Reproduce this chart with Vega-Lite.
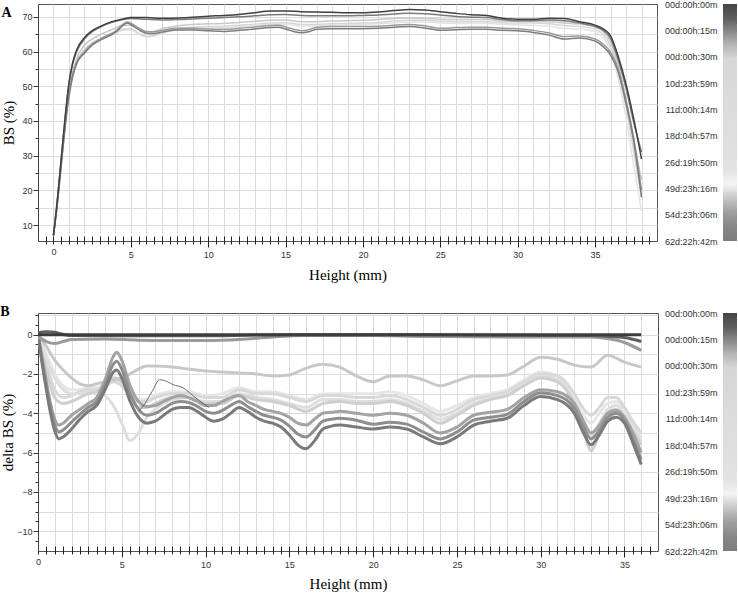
{
"$schema": "https://vega.github.io/schema/vega-lite/v6.json",
"padding": {"top": 0, "left": 0, "right": 0, "bottom": 0},
"config": {
  "view": {"stroke": "#555", "strokeWidth": 1},
  "axis": {"labelFont": "Liberation Sans", "labelFontSize": 9, "labelColor": "#333", "titleFont": "Liberation Serif", "titleFontSize": 15, "titleFontWeight": "normal", "titleColor": "#000", "gridColor": "#dcdcdc", "tickColor": "#333", "domainColor": "#444"}
},
"resolve": {"scale": {"color": "independent"}},
"datasets": {
"A": [
{"s":"a_l2","x":0,"y":7},{"s":"a_l2","x":0.5,"y":28},{"s":"a_l2","x":1,"y":48},{"s":"a_l2","x":1.5,"y":56.5},{"s":"a_l2","x":2,"y":60},{"s":"a_l2","x":2.5,"y":62},{"s":"a_l2","x":3,"y":63.2},{"s":"a_l2","x":3.5,"y":64.2},{"s":"a_l2","x":4,"y":65.2},{"s":"a_l2","x":4.5,"y":66.1},{"s":"a_l2","x":5,"y":66.2},{"s":"a_l2","x":5.5,"y":65},{"s":"a_l2","x":6,"y":64.2},{"s":"a_l2","x":6.5,"y":64.4},{"s":"a_l2","x":7,"y":65.2},{"s":"a_l2","x":8,"y":66.2},{"s":"a_l2","x":9,"y":66.6},{"s":"a_l2","x":10,"y":66.8},{"s":"a_l2","x":11,"y":66.9},{"s":"a_l2","x":12,"y":67.2},{"s":"a_l2","x":13,"y":67.5},{"s":"a_l2","x":14,"y":67.8},{"s":"a_l2","x":15,"y":67.9},{"s":"a_l2","x":16,"y":67.3},{"s":"a_l2","x":17,"y":67.4},{"s":"a_l2","x":18,"y":67.6},{"s":"a_l2","x":19,"y":67.7},{"s":"a_l2","x":20,"y":67.8},{"s":"a_l2","x":21,"y":68},{"s":"a_l2","x":22,"y":68.3},{"s":"a_l2","x":23,"y":68.5},{"s":"a_l2","x":24,"y":68.5},{"s":"a_l2","x":25,"y":68.2},{"s":"a_l2","x":26,"y":68.1},{"s":"a_l2","x":27,"y":68.1},{"s":"a_l2","x":28,"y":68.1},{"s":"a_l2","x":29,"y":67.8},{"s":"a_l2","x":30,"y":67.7},{"s":"a_l2","x":31,"y":67.6},{"s":"a_l2","x":32,"y":67.3},{"s":"a_l2","x":33,"y":66.7},{"s":"a_l2","x":34,"y":66.5},{"s":"a_l2","x":35,"y":65.7},{"s":"a_l2","x":35.5,"y":64},{"s":"a_l2","x":36,"y":60.5},{"s":"a_l2","x":36.5,"y":52},{"s":"a_l2","x":37,"y":41},{"s":"a_l2","x":37.5,"y":27},{"s":"a_l2","x":38,"y":14},
{"s":"a_l1","x":0,"y":7},{"s":"a_l1","x":0.5,"y":28.5},{"s":"a_l1","x":1,"y":48.5},{"s":"a_l1","x":1.5,"y":57},{"s":"a_l1","x":2,"y":60.5},{"s":"a_l1","x":2.5,"y":62.5},{"s":"a_l1","x":3,"y":63.6},{"s":"a_l1","x":3.5,"y":64.6},{"s":"a_l1","x":4,"y":65.6},{"s":"a_l1","x":4.5,"y":66.5},{"s":"a_l1","x":5,"y":66.6},{"s":"a_l1","x":5.5,"y":65.3},{"s":"a_l1","x":6,"y":64.4},{"s":"a_l1","x":6.5,"y":64.6},{"s":"a_l1","x":7,"y":65.5},{"s":"a_l1","x":8,"y":66.6},{"s":"a_l1","x":9,"y":67},{"s":"a_l1","x":10,"y":67.2},{"s":"a_l1","x":11,"y":67.3},{"s":"a_l1","x":12,"y":67.6},{"s":"a_l1","x":13,"y":67.9},{"s":"a_l1","x":14,"y":68.2},{"s":"a_l1","x":15,"y":68.3},{"s":"a_l1","x":16,"y":67.8},{"s":"a_l1","x":17,"y":67.8},{"s":"a_l1","x":18,"y":68},{"s":"a_l1","x":19,"y":68.1},{"s":"a_l1","x":20,"y":68.2},{"s":"a_l1","x":21,"y":68.4},{"s":"a_l1","x":22,"y":68.8},{"s":"a_l1","x":23,"y":69},{"s":"a_l1","x":24,"y":69},{"s":"a_l1","x":25,"y":68.7},{"s":"a_l1","x":26,"y":68.6},{"s":"a_l1","x":27,"y":68.6},{"s":"a_l1","x":28,"y":68.6},{"s":"a_l1","x":29,"y":68.3},{"s":"a_l1","x":30,"y":68.2},{"s":"a_l1","x":31,"y":68.2},{"s":"a_l1","x":32,"y":68},{"s":"a_l1","x":33,"y":67.5},{"s":"a_l1","x":34,"y":67.2},{"s":"a_l1","x":35,"y":66.4},{"s":"a_l1","x":35.5,"y":65},{"s":"a_l1","x":36,"y":61.5},{"s":"a_l1","x":36.5,"y":54},{"s":"a_l1","x":37,"y":44},{"s":"a_l1","x":37.5,"y":31},{"s":"a_l1","x":38,"y":18},
{"s":"a_l3","x":0,"y":7},{"s":"a_l3","x":0.5,"y":28},{"s":"a_l3","x":1,"y":49},{"s":"a_l3","x":1.5,"y":58},{"s":"a_l3","x":2,"y":61.8},{"s":"a_l3","x":2.5,"y":63.6},{"s":"a_l3","x":3,"y":64.8},{"s":"a_l3","x":3.5,"y":65.8},{"s":"a_l3","x":4,"y":66.8},{"s":"a_l3","x":4.5,"y":67.6},{"s":"a_l3","x":5,"y":67.5},{"s":"a_l3","x":5.5,"y":66.5},{"s":"a_l3","x":6,"y":65.6},{"s":"a_l3","x":6.5,"y":65.8},{"s":"a_l3","x":7,"y":66.6},{"s":"a_l3","x":8,"y":67.4},{"s":"a_l3","x":9,"y":67.8},{"s":"a_l3","x":10,"y":68},{"s":"a_l3","x":11,"y":68.1},{"s":"a_l3","x":12,"y":68.4},{"s":"a_l3","x":13,"y":68.7},{"s":"a_l3","x":14,"y":69},{"s":"a_l3","x":15,"y":69.1},{"s":"a_l3","x":16,"y":68.6},{"s":"a_l3","x":17,"y":68.6},{"s":"a_l3","x":18,"y":68.8},{"s":"a_l3","x":19,"y":68.9},{"s":"a_l3","x":20,"y":69},{"s":"a_l3","x":21,"y":69.2},{"s":"a_l3","x":22,"y":69.5},{"s":"a_l3","x":23,"y":69.7},{"s":"a_l3","x":24,"y":69.6},{"s":"a_l3","x":25,"y":69.3},{"s":"a_l3","x":26,"y":69.2},{"s":"a_l3","x":27,"y":69.2},{"s":"a_l3","x":28,"y":69.2},{"s":"a_l3","x":29,"y":68.8},{"s":"a_l3","x":30,"y":68.7},{"s":"a_l3","x":31,"y":68.7},{"s":"a_l3","x":32,"y":68.6},{"s":"a_l3","x":33,"y":68.2},{"s":"a_l3","x":34,"y":67.9},{"s":"a_l3","x":35,"y":67.1},{"s":"a_l3","x":35.5,"y":65.8},{"s":"a_l3","x":36,"y":62.8},{"s":"a_l3","x":36.5,"y":56},{"s":"a_l3","x":37,"y":46},{"s":"a_l3","x":37.5,"y":34},{"s":"a_l3","x":38,"y":23},
{"s":"a_d2","x":0,"y":7},{"s":"a_d2","x":0.25,"y":16.5},{"s":"a_d2","x":0.5,"y":28},{"s":"a_d2","x":0.75,"y":39},{"s":"a_d2","x":1,"y":47.5},{"s":"a_d2","x":1.25,"y":53.5},{"s":"a_d2","x":1.5,"y":57},{"s":"a_d2","x":2,"y":60},{"s":"a_d2","x":2.5,"y":62.2},{"s":"a_d2","x":3,"y":63.6},{"s":"a_d2","x":3.5,"y":64.7},{"s":"a_d2","x":4,"y":65.9},{"s":"a_d2","x":4.5,"y":67.9},{"s":"a_d2","x":4.75,"y":68.5},{"s":"a_d2","x":5,"y":68.2},{"s":"a_d2","x":5.5,"y":66.8},{"s":"a_d2","x":6,"y":65.8},{"s":"a_d2","x":6.5,"y":65.7},{"s":"a_d2","x":7,"y":66.1},{"s":"a_d2","x":8,"y":66.7},{"s":"a_d2","x":9,"y":66.7},{"s":"a_d2","x":10,"y":66.5},{"s":"a_d2","x":11,"y":66.4},{"s":"a_d2","x":12,"y":66.7},{"s":"a_d2","x":13,"y":67.1},{"s":"a_d2","x":14,"y":67.5},{"s":"a_d2","x":14.5,"y":67.6},{"s":"a_d2","x":15,"y":67.1},{"s":"a_d2","x":15.5,"y":66.4},{"s":"a_d2","x":16,"y":66},{"s":"a_d2","x":16.5,"y":66.3},{"s":"a_d2","x":17,"y":67},{"s":"a_d2","x":18,"y":67.2},{"s":"a_d2","x":19,"y":67.2},{"s":"a_d2","x":20,"y":67.2},{"s":"a_d2","x":21,"y":67.3},{"s":"a_d2","x":22,"y":67.6},{"s":"a_d2","x":23,"y":67.8},{"s":"a_d2","x":24,"y":67.4},{"s":"a_d2","x":25,"y":66.7},{"s":"a_d2","x":26,"y":66.9},{"s":"a_d2","x":27,"y":67},{"s":"a_d2","x":28,"y":67},{"s":"a_d2","x":29,"y":66.7},{"s":"a_d2","x":30,"y":66.6},{"s":"a_d2","x":31,"y":66.1},{"s":"a_d2","x":32,"y":65.4},{"s":"a_d2","x":33,"y":64.3},{"s":"a_d2","x":34,"y":64.5},{"s":"a_d2","x":35,"y":63.6},{"s":"a_d2","x":35.5,"y":62.2},{"s":"a_d2","x":36,"y":59.8},{"s":"a_d2","x":36.5,"y":55},{"s":"a_d2","x":37,"y":46},{"s":"a_d2","x":37.5,"y":35},{"s":"a_d2","x":38,"y":20},
{"s":"a_d1","x":0,"y":7},{"s":"a_d1","x":0.25,"y":16},{"s":"a_d1","x":0.5,"y":27},{"s":"a_d1","x":0.75,"y":38},{"s":"a_d1","x":1,"y":47},{"s":"a_d1","x":1.25,"y":53},{"s":"a_d1","x":1.5,"y":56.5},{"s":"a_d1","x":2,"y":59.5},{"s":"a_d1","x":2.5,"y":61.8},{"s":"a_d1","x":3,"y":63.2},{"s":"a_d1","x":3.5,"y":64.3},{"s":"a_d1","x":4,"y":65.5},{"s":"a_d1","x":4.5,"y":67.5},{"s":"a_d1","x":4.75,"y":68.2},{"s":"a_d1","x":5,"y":67.8},{"s":"a_d1","x":5.5,"y":66.3},{"s":"a_d1","x":6,"y":65.3},{"s":"a_d1","x":6.5,"y":65.2},{"s":"a_d1","x":7,"y":65.6},{"s":"a_d1","x":8,"y":66.2},{"s":"a_d1","x":9,"y":66.2},{"s":"a_d1","x":10,"y":66},{"s":"a_d1","x":11,"y":65.8},{"s":"a_d1","x":12,"y":66.1},{"s":"a_d1","x":13,"y":66.5},{"s":"a_d1","x":14,"y":66.9},{"s":"a_d1","x":14.5,"y":67},{"s":"a_d1","x":15,"y":66.5},{"s":"a_d1","x":15.5,"y":65.8},{"s":"a_d1","x":16,"y":65.4},{"s":"a_d1","x":16.5,"y":65.7},{"s":"a_d1","x":17,"y":66.4},{"s":"a_d1","x":18,"y":66.6},{"s":"a_d1","x":19,"y":66.6},{"s":"a_d1","x":20,"y":66.6},{"s":"a_d1","x":21,"y":66.7},{"s":"a_d1","x":22,"y":67},{"s":"a_d1","x":23,"y":67.2},{"s":"a_d1","x":24,"y":66.8},{"s":"a_d1","x":25,"y":66.1},{"s":"a_d1","x":26,"y":66.3},{"s":"a_d1","x":27,"y":66.4},{"s":"a_d1","x":28,"y":66.4},{"s":"a_d1","x":29,"y":66.1},{"s":"a_d1","x":30,"y":66},{"s":"a_d1","x":31,"y":65.5},{"s":"a_d1","x":32,"y":64.8},{"s":"a_d1","x":33,"y":63.6},{"s":"a_d1","x":34,"y":63.9},{"s":"a_d1","x":35,"y":63},{"s":"a_d1","x":35.5,"y":61.5},{"s":"a_d1","x":36,"y":59},{"s":"a_d1","x":36.5,"y":54},{"s":"a_d1","x":37,"y":45},{"s":"a_d1","x":37.5,"y":34},{"s":"a_d1","x":38,"y":18},
{"s":"a_t1","x":0,"y":7},{"s":"a_t1","x":0.25,"y":17},{"s":"a_t1","x":0.5,"y":29},{"s":"a_t1","x":0.75,"y":40.5},{"s":"a_t1","x":1,"y":50.5},{"s":"a_t1","x":1.25,"y":56.5},{"s":"a_t1","x":1.5,"y":60},{"s":"a_t1","x":2,"y":63.6},{"s":"a_t1","x":2.5,"y":65.7},{"s":"a_t1","x":3,"y":67},{"s":"a_t1","x":3.5,"y":68},{"s":"a_t1","x":4,"y":68.7},{"s":"a_t1","x":4.5,"y":69.2},{"s":"a_t1","x":5,"y":69.5},{"s":"a_t1","x":6,"y":69.3},{"s":"a_t1","x":7,"y":69.1},{"s":"a_t1","x":8,"y":69.2},{"s":"a_t1","x":9,"y":69.4},{"s":"a_t1","x":10,"y":69.6},{"s":"a_t1","x":11,"y":69.8},{"s":"a_t1","x":12,"y":70},{"s":"a_t1","x":13,"y":70.3},{"s":"a_t1","x":14,"y":70.6},{"s":"a_t1","x":15,"y":70.7},{"s":"a_t1","x":16,"y":70.4},{"s":"a_t1","x":17,"y":70.3},{"s":"a_t1","x":18,"y":70.3},{"s":"a_t1","x":19,"y":70.3},{"s":"a_t1","x":20,"y":70.4},{"s":"a_t1","x":21,"y":70.5},{"s":"a_t1","x":22,"y":70.8},{"s":"a_t1","x":23,"y":71},{"s":"a_t1","x":24,"y":70.9},{"s":"a_t1","x":25,"y":70.5},{"s":"a_t1","x":26,"y":70.1},{"s":"a_t1","x":27,"y":69.9},{"s":"a_t1","x":28,"y":69.8},{"s":"a_t1","x":29,"y":69.2},{"s":"a_t1","x":30,"y":68.9},{"s":"a_t1","x":31,"y":68.9},{"s":"a_t1","x":32,"y":69.1},{"s":"a_t1","x":33,"y":68.9},{"s":"a_t1","x":34,"y":68.2},{"s":"a_t1","x":35,"y":67.2},{"s":"a_t1","x":35.5,"y":66.2},{"s":"a_t1","x":36,"y":63.8},{"s":"a_t1","x":36.5,"y":57.5},{"s":"a_t1","x":37,"y":49.5},{"s":"a_t1","x":37.5,"y":39.5},{"s":"a_t1","x":38,"y":31},
{"s":"a_top","x":0,"y":7},{"s":"a_top","x":0.25,"y":17},{"s":"a_top","x":0.5,"y":29},{"s":"a_top","x":0.75,"y":41},{"s":"a_top","x":1,"y":51},{"s":"a_top","x":1.25,"y":57},{"s":"a_top","x":1.5,"y":60.5},{"s":"a_top","x":2,"y":64},{"s":"a_top","x":2.5,"y":66},{"s":"a_top","x":3,"y":67.2},{"s":"a_top","x":3.5,"y":68.2},{"s":"a_top","x":4,"y":68.9},{"s":"a_top","x":4.5,"y":69.4},{"s":"a_top","x":5,"y":69.8},{"s":"a_top","x":6,"y":69.8},{"s":"a_top","x":7,"y":69.6},{"s":"a_top","x":8,"y":69.7},{"s":"a_top","x":9,"y":69.9},{"s":"a_top","x":10,"y":70.2},{"s":"a_top","x":11,"y":70.4},{"s":"a_top","x":12,"y":70.7},{"s":"a_top","x":13,"y":71.2},{"s":"a_top","x":14,"y":71.7},{"s":"a_top","x":15,"y":71.7},{"s":"a_top","x":16,"y":71.5},{"s":"a_top","x":17,"y":71.4},{"s":"a_top","x":18,"y":71.3},{"s":"a_top","x":19,"y":71.2},{"s":"a_top","x":20,"y":71.2},{"s":"a_top","x":21,"y":71.4},{"s":"a_top","x":22,"y":71.8},{"s":"a_top","x":23,"y":72.1},{"s":"a_top","x":24,"y":72},{"s":"a_top","x":25,"y":71.5},{"s":"a_top","x":26,"y":71},{"s":"a_top","x":27,"y":70.6},{"s":"a_top","x":28,"y":70.4},{"s":"a_top","x":29,"y":69.6},{"s":"a_top","x":30,"y":69.3},{"s":"a_top","x":31,"y":69.3},{"s":"a_top","x":32,"y":69.6},{"s":"a_top","x":33,"y":69.5},{"s":"a_top","x":34,"y":68.6},{"s":"a_top","x":35,"y":67.6},{"s":"a_top","x":35.5,"y":66.6},{"s":"a_top","x":36,"y":64.5},{"s":"a_top","x":36.5,"y":58.5},{"s":"a_top","x":37,"y":50.5},{"s":"a_top","x":37.5,"y":40.5},{"s":"a_top","x":38,"y":29}
],
"B": [
{"s":"b_l7","x":0,"y":0},{"s":"b_l7","x":0.5,"y":-1},{"s":"b_l7","x":1,"y":-2},{"s":"b_l7","x":1.5,"y":-2.6},{"s":"b_l7","x":2,"y":-2.8},{"s":"b_l7","x":2.5,"y":-2.8},{"s":"b_l7","x":3,"y":-2.7},{"s":"b_l7","x":3.5,"y":-2.7},{"s":"b_l7","x":4,"y":-2.5},{"s":"b_l7","x":4.5,"y":-2.2},{"s":"b_l7","x":5,"y":-2.4},{"s":"b_l7","x":5.5,"y":-3},{"s":"b_l7","x":6,"y":-3.3},{"s":"b_l7","x":6.5,"y":-3.3},{"s":"b_l7","x":7,"y":-3.1},{"s":"b_l7","x":8,"y":-2.9},{"s":"b_l7","x":9,"y":-2.9},{"s":"b_l7","x":10,"y":-3.1},{"s":"b_l7","x":11,"y":-3},{"s":"b_l7","x":12,"y":-2.7},{"s":"b_l7","x":13,"y":-2.9},{"s":"b_l7","x":14,"y":-2.9},{"s":"b_l7","x":15,"y":-3.1},{"s":"b_l7","x":16,"y":-3.3},{"s":"b_l7","x":17,"y":-3},{"s":"b_l7","x":18,"y":-3},{"s":"b_l7","x":19,"y":-3},{"s":"b_l7","x":20,"y":-3},{"s":"b_l7","x":21,"y":-2.9},{"s":"b_l7","x":22,"y":-3.1},{"s":"b_l7","x":23,"y":-3.5},{"s":"b_l7","x":24,"y":-3.9},{"s":"b_l7","x":25,"y":-3.6},{"s":"b_l7","x":26,"y":-3.2},{"s":"b_l7","x":27,"y":-3},{"s":"b_l7","x":28,"y":-2.8},{"s":"b_l7","x":29,"y":-2.3},{"s":"b_l7","x":30,"y":-1.9},{"s":"b_l7","x":31,"y":-2.1},{"s":"b_l7","x":32,"y":-3.3},{"s":"b_l7","x":32.5,"y":-4},{"s":"b_l7","x":33,"y":-4.5},{"s":"b_l7","x":33.5,"y":-4},{"s":"b_l7","x":34,"y":-3.5},{"s":"b_l7","x":34.5,"y":-3.4},{"s":"b_l7","x":35,"y":-3.9},{"s":"b_l7","x":35.5,"y":-4.5},{"s":"b_l7","x":36,"y":-5.2},
{"s":"b_l6","x":0,"y":0},{"s":"b_l6","x":0.5,"y":-1.5},{"s":"b_l6","x":1,"y":-2.8},{"s":"b_l6","x":1.5,"y":-3.2},{"s":"b_l6","x":2,"y":-3.1},{"s":"b_l6","x":2.5,"y":-2.9},{"s":"b_l6","x":3,"y":-2.8},{"s":"b_l6","x":3.5,"y":-2.8},{"s":"b_l6","x":4,"y":-2.6},{"s":"b_l6","x":4.5,"y":-2.4},{"s":"b_l6","x":5,"y":-2.6},{"s":"b_l6","x":5.5,"y":-3.1},{"s":"b_l6","x":6,"y":-3.4},{"s":"b_l6","x":6.5,"y":-3.4},{"s":"b_l6","x":7,"y":-3.2},{"s":"b_l6","x":8,"y":-3},{"s":"b_l6","x":9,"y":-3},{"s":"b_l6","x":10,"y":-3.2},{"s":"b_l6","x":11,"y":-3.2},{"s":"b_l6","x":12,"y":-2.8},{"s":"b_l6","x":13,"y":-3},{"s":"b_l6","x":14,"y":-3},{"s":"b_l6","x":15,"y":-3.2},{"s":"b_l6","x":16,"y":-3.4},{"s":"b_l6","x":17,"y":-3.1},{"s":"b_l6","x":18,"y":-3.1},{"s":"b_l6","x":19,"y":-3.2},{"s":"b_l6","x":20,"y":-3.2},{"s":"b_l6","x":21,"y":-3.1},{"s":"b_l6","x":22,"y":-3.3},{"s":"b_l6","x":23,"y":-3.7},{"s":"b_l6","x":24,"y":-4.1},{"s":"b_l6","x":25,"y":-3.8},{"s":"b_l6","x":26,"y":-3.3},{"s":"b_l6","x":27,"y":-3.1},{"s":"b_l6","x":28,"y":-2.9},{"s":"b_l6","x":29,"y":-2.4},{"s":"b_l6","x":30,"y":-2},{"s":"b_l6","x":31,"y":-2.1},{"s":"b_l6","x":32,"y":-3},{"s":"b_l6","x":32.5,"y":-3.7},{"s":"b_l6","x":33,"y":-4.1},{"s":"b_l6","x":33.5,"y":-3.7},{"s":"b_l6","x":34,"y":-3.2},{"s":"b_l6","x":34.5,"y":-3.2},{"s":"b_l6","x":35,"y":-3.7},{"s":"b_l6","x":35.5,"y":-4.4},{"s":"b_l6","x":36,"y":-5},
{"s":"b_l5","x":0,"y":0},{"s":"b_l5","x":0.5,"y":-1.2},{"s":"b_l5","x":1,"y":-2.2},{"s":"b_l5","x":1.5,"y":-2.8},{"s":"b_l5","x":2,"y":-3},{"s":"b_l5","x":2.5,"y":-3},{"s":"b_l5","x":3,"y":-2.9},{"s":"b_l5","x":3.5,"y":-2.9},{"s":"b_l5","x":4,"y":-3.1},{"s":"b_l5","x":4.5,"y":-3.6},{"s":"b_l5","x":5,"y":-4.5},{"s":"b_l5","x":5.5,"y":-5.4},{"s":"b_l5","x":6,"y":-5},{"s":"b_l5","x":6.5,"y":-4.2},{"s":"b_l5","x":7,"y":-3.8},{"s":"b_l5","x":7.5,"y":-3.5},{"s":"b_l5","x":8,"y":-3.3},{"s":"b_l5","x":9,"y":-3.2},{"s":"b_l5","x":10,"y":-3.4},{"s":"b_l5","x":11,"y":-3.4},{"s":"b_l5","x":12,"y":-3},{"s":"b_l5","x":13,"y":-3.2},{"s":"b_l5","x":14,"y":-3.3},{"s":"b_l5","x":15,"y":-3.5},{"s":"b_l5","x":16,"y":-3.7},{"s":"b_l5","x":17,"y":-3.3},{"s":"b_l5","x":18,"y":-3.3},{"s":"b_l5","x":19,"y":-3.4},{"s":"b_l5","x":20,"y":-3.4},{"s":"b_l5","x":21,"y":-3.3},{"s":"b_l5","x":22,"y":-3.5},{"s":"b_l5","x":23,"y":-3.9},{"s":"b_l5","x":24,"y":-4.3},{"s":"b_l5","x":25,"y":-4},{"s":"b_l5","x":26,"y":-3.5},{"s":"b_l5","x":27,"y":-3.2},{"s":"b_l5","x":28,"y":-3},{"s":"b_l5","x":29,"y":-2.5},{"s":"b_l5","x":30,"y":-2.1},{"s":"b_l5","x":31,"y":-2.3},{"s":"b_l5","x":32,"y":-3.4},{"s":"b_l5","x":32.5,"y":-4.3},{"s":"b_l5","x":33,"y":-5.2},{"s":"b_l5","x":33.5,"y":-4.5},{"s":"b_l5","x":34,"y":-3.8},{"s":"b_l5","x":34.5,"y":-3.6},{"s":"b_l5","x":35,"y":-4.1},{"s":"b_l5","x":35.5,"y":-4.7},{"s":"b_l5","x":36,"y":-5.4},
{"s":"b_l8","x":0,"y":0},{"s":"b_l8","x":0.5,"y":-1.8},{"s":"b_l8","x":1,"y":-3.2},{"s":"b_l8","x":1.5,"y":-3.5},{"s":"b_l8","x":2,"y":-3.4},{"s":"b_l8","x":2.5,"y":-3.2},{"s":"b_l8","x":3,"y":-3},{"s":"b_l8","x":3.5,"y":-2.9},{"s":"b_l8","x":4,"y":-2.6},{"s":"b_l8","x":4.5,"y":-2.2},{"s":"b_l8","x":5,"y":-2.4},{"s":"b_l8","x":5.5,"y":-3.2},{"s":"b_l8","x":6,"y":-3.7},{"s":"b_l8","x":6.5,"y":-3.7},{"s":"b_l8","x":7,"y":-3.5},{"s":"b_l8","x":8,"y":-3.2},{"s":"b_l8","x":9,"y":-3.2},{"s":"b_l8","x":10,"y":-3.5},{"s":"b_l8","x":11,"y":-3.5},{"s":"b_l8","x":12,"y":-3.1},{"s":"b_l8","x":13,"y":-3.3},{"s":"b_l8","x":14,"y":-3.4},{"s":"b_l8","x":15,"y":-3.6},{"s":"b_l8","x":16,"y":-3.9},{"s":"b_l8","x":17,"y":-3.5},{"s":"b_l8","x":18,"y":-3.4},{"s":"b_l8","x":19,"y":-3.5},{"s":"b_l8","x":20,"y":-3.5},{"s":"b_l8","x":21,"y":-3.4},{"s":"b_l8","x":22,"y":-3.6},{"s":"b_l8","x":23,"y":-4},{"s":"b_l8","x":24,"y":-4.5},{"s":"b_l8","x":25,"y":-4.1},{"s":"b_l8","x":26,"y":-3.6},{"s":"b_l8","x":27,"y":-3.3},{"s":"b_l8","x":28,"y":-3.1},{"s":"b_l8","x":29,"y":-2.6},{"s":"b_l8","x":30,"y":-2.2},{"s":"b_l8","x":31,"y":-2.4},{"s":"b_l8","x":32,"y":-3.5},{"s":"b_l8","x":32.5,"y":-4.6},{"s":"b_l8","x":33,"y":-5.9},{"s":"b_l8","x":33.5,"y":-5},{"s":"b_l8","x":34,"y":-4},{"s":"b_l8","x":34.5,"y":-3.8},{"s":"b_l8","x":35,"y":-4.3},{"s":"b_l8","x":35.5,"y":-4.9},{"s":"b_l8","x":36,"y":-5.6},
{"s":"b_l3","x":0,"y":0},{"s":"b_l3","x":0.5,"y":-0.6},{"s":"b_l3","x":1,"y":-1.3},{"s":"b_l3","x":1.5,"y":-1.8},{"s":"b_l3","x":2,"y":-2.2},{"s":"b_l3","x":2.5,"y":-2.5},{"s":"b_l3","x":3,"y":-2.6},{"s":"b_l3","x":3.5,"y":-2.5},{"s":"b_l3","x":4,"y":-2.4},{"s":"b_l3","x":4.5,"y":-2.3},{"s":"b_l3","x":5,"y":-2.2},{"s":"b_l3","x":5.5,"y":-2},{"s":"b_l3","x":6,"y":-1.75},{"s":"b_l3","x":6.5,"y":-1.6},{"s":"b_l3","x":7,"y":-1.6},{"s":"b_l3","x":8,"y":-1.65},{"s":"b_l3","x":9,"y":-1.75},{"s":"b_l3","x":10,"y":-1.85},{"s":"b_l3","x":11,"y":-1.9},{"s":"b_l3","x":12,"y":-1.95},{"s":"b_l3","x":13,"y":-2},{"s":"b_l3","x":14,"y":-2.1},{"s":"b_l3","x":15,"y":-2.05},{"s":"b_l3","x":16,"y":-1.7},{"s":"b_l3","x":17,"y":-1.5},{"s":"b_l3","x":18,"y":-1.65},{"s":"b_l3","x":19,"y":-2.1},{"s":"b_l3","x":20,"y":-2.4},{"s":"b_l3","x":21,"y":-2.1},{"s":"b_l3","x":22,"y":-2.1},{"s":"b_l3","x":23,"y":-2.3},{"s":"b_l3","x":24,"y":-2.6},{"s":"b_l3","x":25,"y":-2.35},{"s":"b_l3","x":26,"y":-2.1},{"s":"b_l3","x":27,"y":-2.1},{"s":"b_l3","x":28,"y":-2.05},{"s":"b_l3","x":29,"y":-1.6},{"s":"b_l3","x":30,"y":-1.15},{"s":"b_l3","x":31,"y":-1.25},{"s":"b_l3","x":32,"y":-1.55},{"s":"b_l3","x":33,"y":-1.65},{"s":"b_l3","x":34,"y":-1.05},{"s":"b_l3","x":35,"y":-1.4},{"s":"b_l3","x":36,"y":-1.65},
{"s":"b_m9","x":0,"y":0},{"s":"b_m9","x":0.25,"y":-1.2},{"s":"b_m9","x":0.5,"y":-2.4},{"s":"b_m9","x":0.75,"y":-3.5},{"s":"b_m9","x":1,"y":-4.3},{"s":"b_m9","x":1.25,"y":-4.6},{"s":"b_m9","x":1.5,"y":-4.5},{"s":"b_m9","x":2,"y":-4.1},{"s":"b_m9","x":2.5,"y":-3.8},{"s":"b_m9","x":3,"y":-3.5},{"s":"b_m9","x":3.5,"y":-3.2},{"s":"b_m9","x":4,"y":-2.3},{"s":"b_m9","x":4.5,"y":-1.1},{"s":"b_m9","x":4.7,"y":-0.9},{"s":"b_m9","x":5,"y":-1.3},{"s":"b_m9","x":5.5,"y":-2.6},{"s":"b_m9","x":6,"y":-3.4},{"s":"b_m9","x":6.5,"y":-3.65},{"s":"b_m9","x":7,"y":-3.6},{"s":"b_m9","x":7.5,"y":-3.4},{"s":"b_m9","x":8,"y":-3.2},{"s":"b_m9","x":8.5,"y":-3.1},{"s":"b_m9","x":9,"y":-3.2},{"s":"b_m9","x":9.5,"y":-3.4},{"s":"b_m9","x":10,"y":-3.6},{"s":"b_m9","x":10.5,"y":-3.6},{"s":"b_m9","x":11,"y":-3.4},{"s":"b_m9","x":11.5,"y":-3.2},{"s":"b_m9","x":12,"y":-3.1},{"s":"b_m9","x":12.5,"y":-3.4},{"s":"b_m9","x":13,"y":-3.6},{"s":"b_m9","x":13.5,"y":-3.8},{"s":"b_m9","x":14,"y":-3.9},{"s":"b_m9","x":14.5,"y":-4},{"s":"b_m9","x":15,"y":-4.2},{"s":"b_m9","x":15.5,"y":-4.5},{"s":"b_m9","x":16,"y":-4.6},{"s":"b_m9","x":16.5,"y":-4.3},{"s":"b_m9","x":17,"y":-4},{"s":"b_m9","x":17.5,"y":-3.95},{"s":"b_m9","x":18,"y":-3.9},{"s":"b_m9","x":19,"y":-4},{"s":"b_m9","x":20,"y":-4.1},{"s":"b_m9","x":21,"y":-4},{"s":"b_m9","x":22,"y":-4.1},{"s":"b_m9","x":23,"y":-4.5},{"s":"b_m9","x":24,"y":-5},{"s":"b_m9","x":25,"y":-4.7},{"s":"b_m9","x":26,"y":-4.1},{"s":"b_m9","x":27,"y":-3.95},{"s":"b_m9","x":28,"y":-3.8},{"s":"b_m9","x":29,"y":-3.2},{"s":"b_m9","x":30,"y":-2.8},{"s":"b_m9","x":31,"y":-2.9},{"s":"b_m9","x":32,"y":-3.5},{"s":"b_m9","x":32.5,"y":-4.3},{"s":"b_m9","x":33,"y":-5},{"s":"b_m9","x":33.5,"y":-4.6},{"s":"b_m9","x":34,"y":-4},{"s":"b_m9","x":34.5,"y":-3.85},{"s":"b_m9","x":35,"y":-4.2},{"s":"b_m9","x":35.5,"y":-5},{"s":"b_m9","x":36,"y":-6},
{"s":"b_m11","x":0,"y":0},{"s":"b_m11","x":0.25,"y":-1.35},{"s":"b_m11","x":0.5,"y":-2.6},{"s":"b_m11","x":0.75,"y":-3.75},{"s":"b_m11","x":1,"y":-4.6},{"s":"b_m11","x":1.25,"y":-4.95},{"s":"b_m11","x":1.5,"y":-4.85},{"s":"b_m11","x":2,"y":-4.45},{"s":"b_m11","x":2.5,"y":-4.05},{"s":"b_m11","x":3,"y":-3.7},{"s":"b_m11","x":3.5,"y":-3.4},{"s":"b_m11","x":4,"y":-2.55},{"s":"b_m11","x":4.5,"y":-1.5},{"s":"b_m11","x":4.7,"y":-1.35},{"s":"b_m11","x":5,"y":-1.75},{"s":"b_m11","x":5.5,"y":-3},{"s":"b_m11","x":6,"y":-3.8},{"s":"b_m11","x":6.5,"y":-4.1},{"s":"b_m11","x":7,"y":-4},{"s":"b_m11","x":7.5,"y":-3.75},{"s":"b_m11","x":8,"y":-3.5},{"s":"b_m11","x":8.5,"y":-3.4},{"s":"b_m11","x":9,"y":-3.45},{"s":"b_m11","x":9.5,"y":-3.65},{"s":"b_m11","x":10,"y":-3.9},{"s":"b_m11","x":10.5,"y":-4},{"s":"b_m11","x":11,"y":-3.85},{"s":"b_m11","x":11.5,"y":-3.6},{"s":"b_m11","x":12,"y":-3.4},{"s":"b_m11","x":12.5,"y":-3.65},{"s":"b_m11","x":13,"y":-3.9},{"s":"b_m11","x":13.5,"y":-4.1},{"s":"b_m11","x":14,"y":-4.2},{"s":"b_m11","x":14.5,"y":-4.35},{"s":"b_m11","x":15,"y":-4.65},{"s":"b_m11","x":15.5,"y":-5.05},{"s":"b_m11","x":16,"y":-5.2},{"s":"b_m11","x":16.5,"y":-4.85},{"s":"b_m11","x":17,"y":-4.4},{"s":"b_m11","x":17.5,"y":-4.3},{"s":"b_m11","x":18,"y":-4.25},{"s":"b_m11","x":19,"y":-4.35},{"s":"b_m11","x":20,"y":-4.55},{"s":"b_m11","x":21,"y":-4.45},{"s":"b_m11","x":22,"y":-4.55},{"s":"b_m11","x":23,"y":-4.95},{"s":"b_m11","x":24,"y":-5.3},{"s":"b_m11","x":25,"y":-4.95},{"s":"b_m11","x":26,"y":-4.35},{"s":"b_m11","x":27,"y":-4.2},{"s":"b_m11","x":28,"y":-4.05},{"s":"b_m11","x":29,"y":-3.4},{"s":"b_m11","x":30,"y":-2.95},{"s":"b_m11","x":31,"y":-3.1},{"s":"b_m11","x":32,"y":-3.75},{"s":"b_m11","x":32.5,"y":-4.6},{"s":"b_m11","x":33,"y":-5.3},{"s":"b_m11","x":33.5,"y":-4.85},{"s":"b_m11","x":34,"y":-4.2},{"s":"b_m11","x":34.5,"y":-4},{"s":"b_m11","x":35,"y":-4.35},{"s":"b_m11","x":35.5,"y":-5.3},{"s":"b_m11","x":36,"y":-6.35},
{"s":"b_m10","x":0,"y":0},{"s":"b_m10","x":0.25,"y":-1.5},{"s":"b_m10","x":0.5,"y":-2.8},{"s":"b_m10","x":0.75,"y":-4},{"s":"b_m10","x":1,"y":-4.9},{"s":"b_m10","x":1.25,"y":-5.3},{"s":"b_m10","x":1.5,"y":-5.2},{"s":"b_m10","x":2,"y":-4.8},{"s":"b_m10","x":2.5,"y":-4.3},{"s":"b_m10","x":3,"y":-3.9},{"s":"b_m10","x":3.5,"y":-3.6},{"s":"b_m10","x":4,"y":-2.8},{"s":"b_m10","x":4.5,"y":-1.9},{"s":"b_m10","x":4.7,"y":-1.8},{"s":"b_m10","x":5,"y":-2.2},{"s":"b_m10","x":5.5,"y":-3.4},{"s":"b_m10","x":6,"y":-4.2},{"s":"b_m10","x":6.5,"y":-4.5},{"s":"b_m10","x":7,"y":-4.4},{"s":"b_m10","x":7.5,"y":-4.1},{"s":"b_m10","x":8,"y":-3.8},{"s":"b_m10","x":8.5,"y":-3.7},{"s":"b_m10","x":9,"y":-3.7},{"s":"b_m10","x":9.5,"y":-3.9},{"s":"b_m10","x":10,"y":-4.2},{"s":"b_m10","x":10.5,"y":-4.4},{"s":"b_m10","x":11,"y":-4.3},{"s":"b_m10","x":11.5,"y":-4},{"s":"b_m10","x":12,"y":-3.7},{"s":"b_m10","x":12.5,"y":-3.9},{"s":"b_m10","x":13,"y":-4.2},{"s":"b_m10","x":13.5,"y":-4.4},{"s":"b_m10","x":14,"y":-4.5},{"s":"b_m10","x":14.5,"y":-4.7},{"s":"b_m10","x":15,"y":-5.1},{"s":"b_m10","x":15.5,"y":-5.6},{"s":"b_m10","x":16,"y":-5.8},{"s":"b_m10","x":16.5,"y":-5.4},{"s":"b_m10","x":17,"y":-4.8},{"s":"b_m10","x":17.5,"y":-4.65},{"s":"b_m10","x":18,"y":-4.6},{"s":"b_m10","x":19,"y":-4.7},{"s":"b_m10","x":20,"y":-4.8},{"s":"b_m10","x":21,"y":-4.7},{"s":"b_m10","x":22,"y":-4.8},{"s":"b_m10","x":23,"y":-5.2},{"s":"b_m10","x":24,"y":-5.55},{"s":"b_m10","x":25,"y":-5.2},{"s":"b_m10","x":26,"y":-4.6},{"s":"b_m10","x":27,"y":-4.4},{"s":"b_m10","x":28,"y":-4.25},{"s":"b_m10","x":29,"y":-3.6},{"s":"b_m10","x":30,"y":-3.15},{"s":"b_m10","x":31,"y":-3.3},{"s":"b_m10","x":32,"y":-4},{"s":"b_m10","x":32.5,"y":-4.9},{"s":"b_m10","x":33,"y":-5.6},{"s":"b_m10","x":33.5,"y":-5.1},{"s":"b_m10","x":34,"y":-4.4},{"s":"b_m10","x":34.5,"y":-4.2},{"s":"b_m10","x":35,"y":-4.5},{"s":"b_m10","x":35.5,"y":-5.5},{"s":"b_m10","x":36,"y":-6.6},
{"s":"b_an","x":6,"y":-3.9},{"s":"b_an","x":6.3,"y":-3.6},{"s":"b_an","x":6.8,"y":-2.9},{"s":"b_an","x":7.26,"y":-2.29},{"s":"b_an","x":7.6,"y":-2.35},{"s":"b_an","x":8.06,"y":-2.54},{"s":"b_an","x":8.65,"y":-2.7},{"s":"b_an","x":9.25,"y":-3.1},{"s":"b_an","x":9.85,"y":-3.5},{"s":"b_an","x":10.2,"y":-3.7},
{"s":"b_z2","x":0,"y":-0.1},{"s":"b_z2","x":0.5,"y":-0.35},{"s":"b_z2","x":1,"y":-0.45},{"s":"b_z2","x":1.5,"y":-0.35},{"s":"b_z2","x":2,"y":-0.25},{"s":"b_z2","x":4,"y":-0.22},{"s":"b_z2","x":6,"y":-0.28},{"s":"b_z2","x":8,"y":-0.3},{"s":"b_z2","x":10,"y":-0.3},{"s":"b_z2","x":12,"y":-0.25},{"s":"b_z2","x":14,"y":-0.12},{"s":"b_z2","x":16,"y":-0.05},{"s":"b_z2","x":20,"y":-0.05},{"s":"b_z2","x":24,"y":-0.1},{"s":"b_z2","x":28,"y":-0.12},{"s":"b_z2","x":32,"y":-0.12},{"s":"b_z2","x":33,"y":-0.12},{"s":"b_z2","x":34,"y":-0.2},{"s":"b_z2","x":35,"y":-0.4},{"s":"b_z2","x":36,"y":-0.8},
{"s":"b_z1","x":0,"y":0.1},{"s":"b_z1","x":0.5,"y":0.15},{"s":"b_z1","x":1,"y":0.12},{"s":"b_z1","x":1.5,"y":0.02},{"s":"b_z1","x":2,"y":-0.05},{"s":"b_z1","x":5,"y":-0.06},{"s":"b_z1","x":10,"y":-0.06},{"s":"b_z1","x":15,"y":0},{"s":"b_z1","x":20,"y":0},{"s":"b_z1","x":25,"y":-0.02},{"s":"b_z1","x":30,"y":-0.04},{"s":"b_z1","x":33,"y":-0.05},{"s":"b_z1","x":34,"y":-0.08},{"s":"b_z1","x":35,"y":-0.15},{"s":"b_z1","x":36,"y":-0.35},
{"s":"b_z0","x":0,"y":0},{"s":"b_z0","x":5,"y":0},{"s":"b_z0","x":10,"y":0},{"s":"b_z0","x":15,"y":0},{"s":"b_z0","x":20,"y":0},{"s":"b_z0","x":25,"y":0},{"s":"b_z0","x":30,"y":0},{"s":"b_z0","x":36,"y":0}
],
"LEG": [{"from": 0, "to": 9}]
},
"spacing": 22,
"vconcat": [
 {
  "title": {"text": "A", "anchor": "start", "frame": "bounds", "font": "Liberation Serif", "fontSize": 14, "fontWeight": "bold", "color": "#000", "offset": -20},
  "spacing": 6,
  "hconcat": [
   {
    "width": 619, "height": 237,
    "data": {"name": "A"},
    "mark": {"type": "line", "strokeWidth": 1.5, "interpolate": "monotone", "clip": true},
    "encoding": {
     "x": {"field": "x", "type": "quantitative", "scale": {"domain": [-1, 39], "nice": false, "zero": false},
       "axis": {"title": "Height (mm)", "values": [-0.5,0,0.5,1,1.5,2,2.5,3,3.5,4,4.5,5,5.5,6,6.5,7,7.5,8,8.5,9,9.5,10,10.5,11,11.5,12,12.5,13,13.5,14,14.5,15,15.5,16,16.5,17,17.5,18,18.5,19,19.5,20,20.5,21,21.5,22,22.5,23,23.5,24,24.5,25,25.5,26,26.5,27,27.5,28,28.5,29,29.5,30,30.5,31,31.5,32,32.5,33,33.5,34,34.5,35,35.5,36,36.5,37,37.5,38,38.5],
         "labelExpr": "datum.value % 5 === 0 ? format(datum.value, 'd') : ''", "labelOverlap": false, "labelFlush": false,
         "gridColor": {"condition": {"test": "datum.value % 1 !== 0", "value": "rgba(0,0,0,0)"}, "value": "#dcdcdc"},
         "tickSize": {"condition": {"test": "datum.value % 5 === 0 && datum.value !== 0", "value": 11}, "value": 8},
         "offset": -5, "domain": false, "tickColor": "#222", "labelPadding": 3, "titlePadding": 8}},
     "y": {"field": "y", "type": "quantitative", "scale": {"domain": [5.4, 73.7], "nice": false, "zero": false},
       "axis": {"title": "BS (%)", "values": [10,15,20,25,30,35,40,45,50,55,60,65,70],
         "labelExpr": "datum.value % 10 === 0 ? format(datum.value, 'd') : ''", "labelOverlap": false,
         "tickSize": {"condition": {"test": "datum.value % 10 === 0", "value": 5}, "value": 3},
         "labelPadding": 1, "titlePadding": 5}},
     "color": {"field": "s", "type": "nominal", "legend": null,
       "scale": {"domain": ["a_l2","a_l1","a_l3","a_d2","a_d1","a_t1","a_top"], "range": ["#e4e4e4","#d6d6d6","#c8c8c8","#9a9a9a","#7c7c7c","#7a7a7a","#404040"]}}
    }
   },
   {
    "width": 14, "height": 237,
    "view": {"stroke": null},
    "data": {"name": "LEG"},
    "mark": {"type": "rect", "fill": {"gradient": "linear", "x1": 0, "y1": 0, "x2": 0, "y2": 1, "stops": [{"offset":0,"color":"#454545"},{"offset":0.06,"color":"#5e5e5e"},{"offset":0.11,"color":"#858585"},{"offset":0.17,"color":"#b4b4b4"},{"offset":0.23,"color":"#d6d6d6"},{"offset":0.45,"color":"#dcdcdc"},{"offset":0.7,"color":"#e2e2e2"},{"offset":0.76,"color":"#f4f4f4"},{"offset":0.82,"color":"#c6c6c6"},{"offset":0.88,"color":"#9e9e9e"},{"offset":0.94,"color":"#878787"},{"offset":1,"color":"#7c7c7c"}]}},
    "encoding": {
     "x": {"datum": 0, "type": "quantitative", "scale": {"domain": [0, 1], "nice": false, "zero": false}, "axis": null},
     "x2": {"datum": 1},
     "y": {"field": "from", "type": "quantitative", "scale": {"domain": [0, 9], "reverse": true, "nice": false, "zero": false},
       "axis": {"title": null, "values": [0,1,2,3,4,5,6,7,8,9], "labelExpr": "['00d:00h:00m','00d:00h:15m','00d:00h:30m','10d:23h:59m','11d:00h:14m','18d:04h:57m','26d:19h:50m','49d:23h:16m','54d:23h:06m','62d:22h:42m'][datum.value]", "ticks": false, "domain": false, "grid": false, "labelPadding": 6, "labelFlush": false, "labelOverlap": false}},
     "y2": {"field": "to"}
    }
   }
  ]
 },
 {
  "title": {"text": "B", "anchor": "start", "frame": "bounds", "font": "Liberation Serif", "fontSize": 14, "fontWeight": "bold", "color": "#000", "offset": -10},
  "spacing": 5,
  "hconcat": [
   {
    "width": 620, "height": 238,
    "data": {"name": "B"},
    "encoding": {
     "x": {"field": "x", "type": "quantitative", "scale": {"domain": [0, 37], "nice": false, "zero": false},
       "axis": {"title": "Height (mm)", "values": [0,0.5,1,1.5,2,2.5,3,3.5,4,4.5,5,5.5,6,6.5,7,7.5,8,8.5,9,9.5,10,10.5,11,11.5,12,12.5,13,13.5,14,14.5,15,15.5,16,16.5,17,17.5,18,18.5,19,19.5,20,20.5,21,21.5,22,22.5,23,23.5,24,24.5,25,25.5,26,26.5,27,27.5,28,28.5,29,29.5,30,30.5,31,31.5,32,32.5,33,33.5,34,34.5,35,35.5,36,36.5],
         "labelExpr": "datum.value % 5 === 0 ? format(datum.value, 'd') : ''", "labelOverlap": false, "labelFlush": false,
         "gridColor": {"condition": {"test": "datum.value % 1 !== 0", "value": "rgba(0,0,0,0)"}, "value": "#dcdcdc"},
         "tickSize": {"condition": {"test": "datum.value % 5 === 0 && datum.value !== 0", "value": 11}, "value": 8},
         "offset": -5, "domain": false, "tickColor": "#222", "labelPadding": 3, "titlePadding": 7}},
     "y": {"field": "y", "type": "quantitative", "scale": {"domain": [-11, 1.1], "nice": false, "zero": false},
       "axis": {"title": "delta BS (%)", "values": [-10.5,-10,-9.5,-9,-8.5,-8,-7.5,-7,-6.5,-6,-5.5,-5,-4.5,-4,-3.5,-3,-2.5,-2,-1.5,-1,-0.5,0,0.5,1],
         "labelExpr": "datum.value % 2 === 0 ? format(datum.value, 'd') : ''", "labelOverlap": false,
         "gridColor": {"condition": {"test": "datum.value % 1 !== 0", "value": "rgba(0,0,0,0)"}, "value": "#dcdcdc"},
         "tickSize": {"condition": {"test": "datum.value % 2 === 0", "value": 5}, "value": 3},
         "labelPadding": 1, "titlePadding": 1}},
     "color": {"field": "s", "type": "nominal", "legend": null,
       "scale": {"domain": ["b_l7","b_l6","b_l5","b_l8","b_l3","b_m9","b_m11","b_m10","b_an","b_z2","b_z1","b_z0"], "range": ["#e6e6e6","#d8d8d8","#dedede","#cfcfcf","#c8c8c8","#a3a3a3","#8e8e8e","#7a7a7a","#4a4a4a","#9a9a9a","#5e5e5e","#3c3c3c"]}}
    },
    "layer": [
     {"transform": [{"filter": "datum.s !== 'b_an'"}], "mark": {"type": "line", "strokeWidth": 3, "interpolate": "monotone", "clip": true}},
     {"transform": [{"filter": "datum.s === 'b_an'"}], "mark": {"type": "line", "strokeWidth": 0.8, "interpolate": "monotone", "clip": true}}
    ]
   },
   {
    "width": 14, "height": 238,
    "view": {"stroke": null},
    "data": {"name": "LEG"},
    "mark": {"type": "rect", "fill": {"gradient": "linear", "x1": 0, "y1": 0, "x2": 0, "y2": 1, "stops": [{"offset":0,"color":"#454545"},{"offset":0.06,"color":"#5e5e5e"},{"offset":0.11,"color":"#858585"},{"offset":0.17,"color":"#b4b4b4"},{"offset":0.23,"color":"#d6d6d6"},{"offset":0.45,"color":"#dcdcdc"},{"offset":0.7,"color":"#e2e2e2"},{"offset":0.76,"color":"#f4f4f4"},{"offset":0.82,"color":"#c6c6c6"},{"offset":0.88,"color":"#9e9e9e"},{"offset":0.94,"color":"#878787"},{"offset":1,"color":"#7c7c7c"}]}},
    "encoding": {
     "x": {"datum": 0, "type": "quantitative", "scale": {"domain": [0, 1], "nice": false, "zero": false}, "axis": null},
     "x2": {"datum": 1},
     "y": {"field": "from", "type": "quantitative", "scale": {"domain": [0, 9], "reverse": true, "nice": false, "zero": false},
       "axis": {"title": null, "values": [0,1,2,3,4,5,6,7,8,9], "labelExpr": "['00d:00h:00m','00d:00h:15m','00d:00h:30m','10d:23h:59m','11d:00h:14m','18d:04h:57m','26d:19h:50m','49d:23h:16m','54d:23h:06m','62d:22h:42m'][datum.value]", "ticks": false, "domain": false, "grid": false, "labelPadding": 6, "labelFlush": false, "labelOverlap": false}},
     "y2": {"field": "to"}
    }
   }
  ]
 }
]
}
